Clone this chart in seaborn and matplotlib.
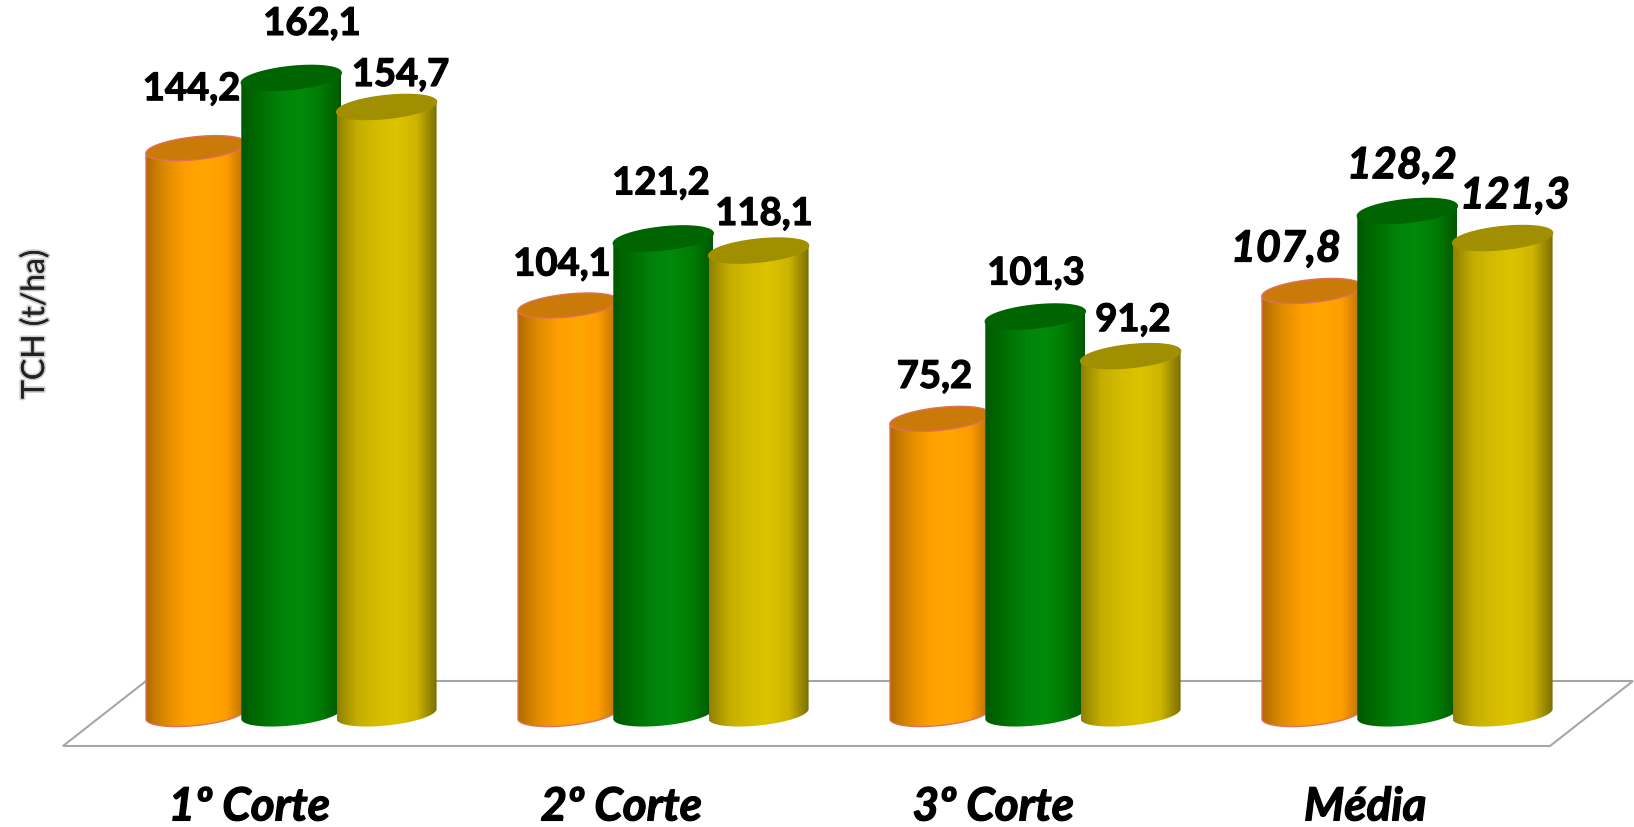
import numpy as np
import pandas as pd
import matplotlib
matplotlib.use("Agg")
import matplotlib.pyplot as plt
import matplotlib.patheffects as pe
from matplotlib.colors import LinearSegmentedColormap
from matplotlib.patches import Polygon
import seaborn as sns

# Yield by ratoon cycle
cuts = ["1º Corte", "2º Corte", "3º Corte", "Média"]
orange_values = [144.2, 104.1, 75.2, 107.8]
green_values = [162.1, 121.2, 101.3, 128.2]
yellow_values = [154.7, 118.1, 91.2, 121.3]

# Hand placement of the value labels relative to each cylinder top, in pixels
label_dx = [[-4.5, -6, -5.5, -26], [20.7, -2.3, 0.7, -5.3], [13.9, 5.4, 2.4, 12.4]]
label_dy = [[59, 41, 42, 42.5], [54, 55, 43, 45.7], [32, 36.6, 36, 42.7]]

W, H = 1634, 828
PX_PER_UNIT = 3.924
PX_PER_CAT = 372.0
BASE_PX = 715          # pixel row of value 0
FIRST_CAT_PX = 291.3   # pixel column of the first category
AX_LEFT, AX_BOTTOM = 60, 752
RADIUS_PX, MINOR_PX, SKEW_PX = 50.0, 11.5, 5.0

sns.set_theme(style="white")
plt.rcParams["font.family"] = ["Lato", "DejaVu Sans"]

series_names = ["Orange", "Green", "Yellow"]
frame = pd.DataFrame({
    "cut": cuts * 3,
    "value": orange_values + green_values + yellow_values,
    "series": np.repeat(series_names, len(cuts)),
})

fig = plt.figure(figsize=(W / 100, H / 100), dpi=100, facecolor="white")
ax = fig.add_axes([AX_LEFT / W, 1 - AX_BOTTOM / H, (W - AX_LEFT) / W, AX_BOTTOM / H])

sns.barplot(data=frame, x="cut", y="value", hue="series", hue_order=series_names,
            order=cuts, width=3 * 95.3 / PX_PER_CAT, gap=0, dodge=True,
            legend=False, ax=ax, errorbar=None, facecolor="none", edgecolor="none")

xlim = ((AX_LEFT - FIRST_CAT_PX) / PX_PER_CAT, (W - FIRST_CAT_PX) / PX_PER_CAT)
ylim = ((BASE_PX - AX_BOTTOM) / PX_PER_UNIT, BASE_PX / PX_PER_UNIT)


def xpx(px):
    return (px - FIRST_CAT_PX) / PX_PER_CAT


def ypx(px):
    return (BASE_PX - px) / PX_PER_UNIT


# Floor plate under the cylinders
floor = Polygon([(xpx(63), ypx(747)), (xpx(146), ypx(682)), (xpx(1633), ypx(682)), (xpx(1550), ypx(747))],
                closed=True, facecolor="white", edgecolor="#a6a6a6", linewidth=1.5, zorder=1)
ax.add_patch(floor)

side_colours = [
    ["#b06c00", "#e08c00", "#ff9f00", "#ffa600", "#ff9d00", "#b87000"],
    ["#005800", "#006e02", "#00830a", "#008a0a", "#007a04", "#005800"],
    ["#8f8000", "#c4ae00", "#d4bc00", "#dcc400", "#ccb400", "#7c6e00"],
]
cap_colours = ["#c97a08", "#006400", "#a08f00"]
rim_colours = ["#e0705a", "none", "none"]

a = RADIUS_PX / PX_PER_CAT
b = MINOR_PX / PX_PER_UNIT
s = SKEW_PX / PX_PER_UNIT
theta = np.linspace(0, 2 * np.pi, 121)
under = np.linspace(np.pi, 2 * np.pi, 61)

heavy = [pe.withStroke(linewidth=0.9, foreground="black")]

n_cuts = len(cuts)
for k, patch in enumerate(ax.patches[:3 * n_cuts]):
    hue_i, cat_i = k // n_cuts, k % n_cuts
    cx = patch.get_x() + patch.get_width() / 2
    top = patch.get_height()
    z = 3 + hue_i * 2

    # Side wall: bottom edge follows the lower half of the base ellipse
    bx = cx + a * np.cos(under)
    by = s * np.cos(under) + b * np.sin(under)
    outline = np.vstack([[cx - a, top - s], np.column_stack([bx, by]), [cx + a, top + s]])
    wall = Polygon(outline, closed=True, transform=ax.transData, facecolor="none",
                   edgecolor=rim_colours[hue_i], linewidth=1.0, zorder=z + 0.1)
    ax.add_patch(wall)
    cmap = LinearSegmentedColormap.from_list(f"side{hue_i}", side_colours[hue_i])
    img = ax.imshow(np.linspace(0, 1, 256)[None, :], cmap=cmap, aspect="auto",
                    extent=(cx - a, cx + a, -b - s, top + s), zorder=z, interpolation="bilinear")
    clip = Polygon(outline, closed=True, transform=ax.transData)
    img.set_clip_path(clip)

    # Top cap of the cylinder
    cap = np.column_stack([cx + a * np.cos(theta), top + s * np.cos(theta) + b * np.sin(theta)])
    ax.add_patch(Polygon(cap, closed=True, facecolor=cap_colours[hue_i],
                         edgecolor=rim_colours[hue_i] if hue_i == 0 else cap_colours[hue_i],
                         linewidth=1.0, zorder=z + 0.2))

    # Value label; the summary group is set larger and in italics
    is_mean = cat_i == n_cuts - 1
    ax.annotate(f"{top:.1f}".replace(".", ","), xy=(cx, top),
                xytext=(label_dx[hue_i][cat_i], label_dy[hue_i][cat_i]),
                textcoords="offset pixels", ha="center", va="center",
                fontsize=31 if is_mean else 27.5, fontweight="bold",
                fontstyle="italic" if is_mean else "normal",
                color="black", zorder=20, annotation_clip=False, path_effects=heavy)

ax.set_xlim(xlim)
ax.set_ylim(ylim)
ax.set_xticks(np.arange(n_cuts) - 42 / PX_PER_CAT, cuts)
ax.tick_params(axis="x", length=0, pad=25.5)
for lab in ax.get_xticklabels():
    lab.set_fontsize(33)
    lab.set_fontweight("bold")
    lab.set_fontstyle("italic")
    lab.set_color("black")
    lab.set_path_effects(heavy)
ax.set_yticks([])
ax.set_xlabel("")
ax.set_ylabel("TCH (t/ha)", fontsize=23, color="#222222",
              path_effects=[pe.withStroke(linewidth=2.5, foreground="#00000033")])
ax.yaxis.set_label_coords((50 - AX_LEFT) / (W - AX_LEFT), (AX_BOTTOM - 325) / AX_BOTTOM)
sns.despine(ax=ax, left=True, bottom=True)

fig.savefig("out.png", dpi=100, facecolor="white")
